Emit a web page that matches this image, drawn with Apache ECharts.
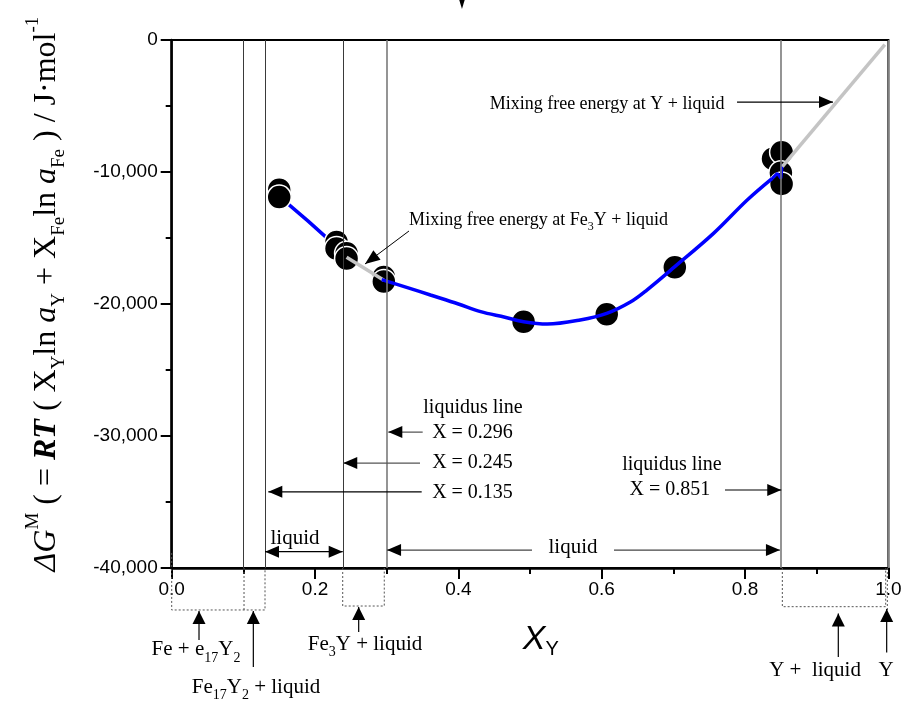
<!DOCTYPE html>
<html><head><meta charset="utf-8">
<script src="https://cdn.jsdelivr.net/npm/echarts@6/dist/echarts.min.js"></script>
<style>html,body{margin:0;padding:0;background:#fff}#c{width:910px;height:710px}</style>
</head><body><div id="c"></div>
<script>
const SERIF = '"Liberation Serif", "Times New Roman", serif';
const SANS = '"Liberation Sans", Arial, sans-serif';

// ---- data ----
const xTickValues = [0, 0.2, 0.4, 0.6, 0.8, 1.0];
const yTickValues = [0, -10000, -20000, -30000, -40000];
const pointsX = [0.150, 0.150, 0.230, 0.230, 0.244, 0.244, 0.296, 0.296, 0.491, 0.607, 0.702, 0.839, 0.851, 0.850, 0.851];
const pointsY = [-11350, -11900, -15300, -15800, -16150, -16550, -17950, -18300, -21350, -20780, -17220, -9000, -8500, -10050, -10900];
const blueAX = [0.150, 0.19, 0.230, 0.244];
const blueAY = [-11850, -13700, -15650, -16350];
const grayAX = [0.244, 0.296];
const grayAY = [-16450, -18200];
const blueBX = [0.293, 0.33, 0.361, 0.40, 0.431, 0.465, 0.491, 0.524, 0.570, 0.607, 0.64, 0.663, 0.702, 0.756, 0.803, 0.838];
const blueBY = [-18150, -18780, -19320, -20000, -20580, -21000, -21340, -21520, -21210, -20710, -19850, -18940, -17170, -14650, -12120, -10480];
const blueCX = [0.838, 0.845, 0.850, 0.852];
const blueCY = [-10480, -10100, -10480, -9400];
const grayBX = [0.852, 0.995];
const grayBY = [-9600, -350];
const boundaries = [0.1009, 0.1302, 0.2386, 0.2966, 0.852, 0.9962];

const zip = (xs, ys) => xs.map((x, i) => [x, ys[i]]);

function boundaryStyle(v) {
  if (v > 0.99) return { color: '#808080', width: 1.2, type: 'solid' };
  if (v > 0.29) return { color: '#7a7a7a', width: 1.6, type: 'solid' };
  return { color: '#3a3a3a', width: 1, type: 'solid' };
}

function dotted(data) {
  return { type: 'line', data, symbol: 'none', clip: false, silent: true, z: 1,
    lineStyle: { color: '#555', width: 1, type: [2, 2] } };
}

const chart = echarts.init(document.getElementById('c'));

const option = {
  animation: false,
  grid: { left: 171.7, right: 21.6, top: 40, bottom: 142, show: true, borderColor: '#000', borderWidth: 2, backgroundColor: 'transparent' },
  xAxis: {
    type: 'value', min: 0, max: 1, interval: 0.2,
    axisLine: { onZero: false, lineStyle: { color: '#000', width: 2.5 } },
    axisTick: { inside: false, length: 11, lineStyle: { color: '#000', width: 2 } },
    minorTick: { show: true, splitNumber: 2, length: 6, lineStyle: { color: '#000', width: 2 } },
    axisLabel: { margin: 12, fontSize: 19, fontFamily: SANS, color: '#000', showMinLabel: true, showMaxLabel: true,
      formatter: v => xTickValues.some(t => Math.abs(t - v) < 1e-9) ? v.toFixed(1) : '' },
    splitLine: { show: false }
  },
  yAxis: {
    type: 'value', min: -40000, max: 0, interval: 10000,
    axisLine: { onZero: false, lineStyle: { color: '#000', width: 2.5 } },
    axisTick: { inside: false, length: 11, lineStyle: { color: '#000', width: 2 } },
    minorTick: { show: true, splitNumber: 2, length: 6, lineStyle: { color: '#000', width: 2 } },
    axisLabel: { margin: 14, fontSize: 19, fontFamily: SANS, color: '#000', showMinLabel: true, showMaxLabel: true,
      formatter: v => yTickValues.includes(v) ? (v === 0 ? '0' : v.toLocaleString('en-US')) : '' },
    splitLine: { show: false }
  },
  series: [
    { type: 'line', data: [], symbol: 'none', silent: true,
      markLine: { silent: true, symbol: 'none', label: { show: false },
        data: boundaries.map(v => ({ xAxis: v, lineStyle: boundaryStyle(v) })) } },
    dotted([[0, -38860], [0, -43180], [0.1302, -43180], [0.1302, -40000]]),
    dotted([[0.1009, -40000], [0.1009, -43180]]),
    dotted([[0.2386, -40000], [0.2386, -42880], [0.2966, -42880], [0.2966, -40000]]),
    dotted([[0.852, -40000], [0.852, -42930], [0.9962, -42930], [0.9962, -40000]]),
    dotted([[0.9985, -40000], [0.9985, -43400]]),
    { type: 'line', data: zip(blueAX, blueAY), symbol: 'none', z: 2, lineStyle: { color: '#0000ff', width: 3.5 } },
    { type: 'scatter', data: zip(pointsX, pointsY), symbol: 'circle', symbolSize: 24, z: 3,
      itemStyle: { color: '#000', borderColor: '#fff', borderWidth: 1.5, opacity: 1 } },
    { type: 'line', data: zip(grayAX, grayAY), symbol: 'none', z: 4, lineStyle: { color: '#c4c4c4', width: 3.5 } },
    { type: 'line', data: zip(blueBX, blueBY), symbol: 'none', z: 4, smooth: 0.35, lineStyle: { color: '#0000ff', width: 3.5 } },
    { type: 'line', data: zip(blueCX, blueCY), symbol: 'none', z: 4, lineStyle: { color: '#0000ff', width: 3 } },
    { type: 'line', data: zip(grayBX, grayBY), symbol: 'none', z: 4, lineStyle: { color: '#c4c4c4', width: 3.5 } }
  ]
};
chart.setOption(option);

// ---- annotations (positions in data coordinates, converted by the chart) ----
const P = (x, y) => chart.convertToPixel({ gridIndex: 0 }, [x, y]);
const g = [];

function arrowHead(tip, from, L, W, color) {
  const dx = tip[0] - from[0], dy = tip[1] - from[1];
  const d = Math.hypot(dx, dy) || 1;
  const ux = dx / d, uy = dy / d, nx = -uy, ny = ux;
  const bx = tip[0] - ux * L, by = tip[1] - uy * L;
  g.push({ type: 'polygon', z: 20, shape: { points: [tip, [bx + nx * W, by + ny * W], [bx - nx * W, by - ny * W]] }, style: { fill: color } });
}
function arrow(a, b, opt = {}) {
  const p0 = P(a[0], a[1]), p1 = P(b[0], b[1]);
  const color = opt.color || '#000', L = opt.L || 14, W = opt.W || 6;
  g.push({ type: 'line', z: 19, shape: { x1: p0[0], y1: p0[1], x2: p1[0], y2: p1[1] }, style: { stroke: opt.lineColor || color, lineWidth: opt.lw || 1.2 } });
  arrowHead(p1, p0, L, W, color);
  if (opt.both) arrowHead(p0, p1, L, W, color);
}
function label(x, y, text, size, rich, extra = {}) {
  const p = P(x, y);
  g.push(Object.assign({ type: 'text', z: 20, x: p[0], y: p[1],
    style: { text, fontFamily: SERIF, fontSize: size, fill: '#000', align: 'center', verticalAlign: 'middle', rich } }, extra));
}

function serifRich(size, L, sub) {
  return {
    t: { fontFamily: SERIF, fontSize: size, lineHeight: L, fill: '#000' },
    s: { fontFamily: SERIF, fontSize: sub, lineHeight: sub, verticalAlign: 'bottom', fill: '#000' }
  };
}

label(0.6074, -4850, 'Mixing free energy at Y + liquid', 18);
arrow([0.7888, -4700], [0.9227, -4700], { L: 14, W: 6 });

label(0.5118, -13640, '{t|Mixing free energy at Fe}{s|3}{t|Y + liquid}', 18, serifRich(18, 26, 12));
arrow([0.3311, -14470], [0.2697, -16970], { L: 15, W: 6, lw: 1 });

label(0.4204, -27880, 'liquidus line', 20);
label(0.4197, -29770, 'X = 0.296', 20);
label(0.4197, -32050, 'X = 0.245', 20);
label(0.4197, -34280, 'X = 0.135', 20);
arrow([0.3502, -29700], [0.3022, -29700], { L: 14, W: 6, lineColor: '#555' });
arrow([0.3465, -32050], [0.2394, -32050], { L: 14, W: 6, lineColor: '#555' });
arrow([0.3488, -34230], [0.1348, -34230], { L: 14, W: 6 });

label(0.172, -37730, 'liquid', 21);
arrow([0.1302, -38760], [0.2386, -38760], { L: 14, W: 6, both: true });
label(0.5599, -38410, 'liquid', 21);
arrow([0.5027, -38640], [0.3005, -38640], { L: 14, W: 6, lineColor: '#444' });
arrow([0.6171, -38640], [0.8487, -38640], { L: 14, W: 6, lineColor: '#444' });

label(0.698, -32200, 'liquidus line', 20);
label(0.6952, -34090, 'X = 0.851', 20);
arrow([0.772, -34090], [0.8505, -34090], { L: 14, W: 6 });

// below the axis
label(0.0339, -46210, '{t|Fe + e}{s|17}{t|Y}{s|2}', 21, serifRich(21, 30, 14));
arrow([0.0381, -45450], [0.0381, -43250], { L: 13, W: 6.5 });
label(0.1176, -49020, '{t|Fe}{s|17}{t|Y}{s|2}{t| + liquid}', 21, serifRich(21, 30, 14));
arrow([0.1139, -47500], [0.1139, -43250], { L: 13, W: 6.5 });
label(0.2697, -45760, '{t|Fe}{s|3}{t|Y + liquid}', 21, serifRich(21, 30, 14));
arrow([0.2609, -44850], [0.2609, -42950], { L: 13, W: 6.5 });
label(0.8976, -47730, 'Y +  liquid', 21);
arrow([0.9301, -46740], [0.9301, -43450], { L: 13, W: 6.5 });
label(0.9967, -47730, 'Y', 21);
arrow([0.9976, -46400], [0.9976, -43100], { L: 13, W: 6.5 });

// small cut-off arrowhead at the very top
(function () {
  const tip = P(0.405, 2350), base = P(0.405, 3100);
  g.push({ type: 'polygon', z: 20, shape: { points: [tip, [base[0] - 3, base[1]], [base[0] + 3, base[1]]] }, style: { fill: '#000' } });
})();

// axis titles
const xt = P(0.515, -45450);
g.push({ type: 'text', z: 20, x: xt[0], y: xt[1], style: {
  text: '{x|X}{y|Y}', align: 'center', verticalAlign: 'middle',
  rich: { x: { fontFamily: SANS, fontStyle: 'italic', fontSize: 34, lineHeight: 40, fill: '#000' },
          y: { fontFamily: SANS, fontSize: 20, lineHeight: 20, verticalAlign: 'bottom', fill: '#000' } } } });

const yt = P(-0.175, -19250);
const yr = {
  m: { fontFamily: SERIF, fontSize: 32, lineHeight: 45, fill: '#000' },
  i: { fontFamily: SERIF, fontStyle: 'italic', fontSize: 32, lineHeight: 45, fill: '#000' },
  bi: { fontFamily: SERIF, fontStyle: 'italic', fontWeight: 'bold', fontSize: 32, lineHeight: 45, fill: '#000' },
  sup: { fontFamily: SERIF, fontSize: 19, lineHeight: 19, verticalAlign: 'top', fill: '#000' },
  sub: { fontFamily: SERIF, fontSize: 19, lineHeight: 19, verticalAlign: 'bottom', fill: '#000' }
};
g.push({ type: 'text', z: 20, x: yt[0], y: yt[1], rotation: Math.PI / 2, style: {
  text: '{i|ΔG}{sup|M}{m| ( = }{bi|RT}{m| ( X}{sub|Y}{m|ln }{i|a}{sub|Y}{m| + X}{sub|Fe}{m|ln }{i|a}{sub|Fe}{m| ) / J·mol}{sup|-1}',
  align: 'center', verticalAlign: 'middle', rich: yr } });

chart.setOption({ graphic: { elements: g } });
</script>
</body></html>
